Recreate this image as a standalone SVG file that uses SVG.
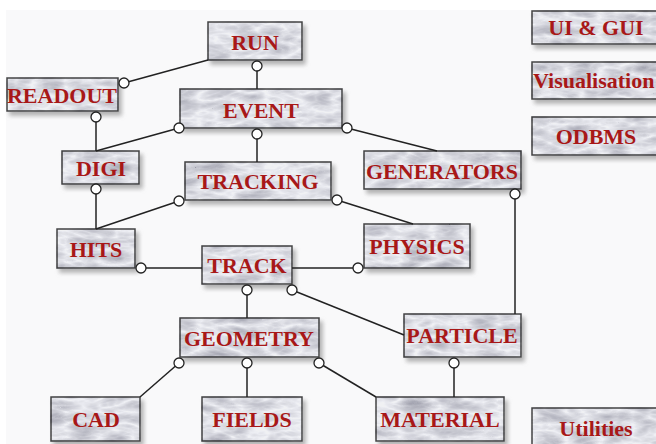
<svg xmlns="http://www.w3.org/2000/svg" width="656" height="444" viewBox="0 0 656 444">
<defs>
<filter id="mb" x="-8%" y="-15%" width="125%" height="145%" color-interpolation-filters="sRGB">
<feTurbulence type="turbulence" baseFrequency="0.03 0.08" numOctaves="3" seed="7" result="n"/>
<feColorMatrix in="n" type="matrix" values="-0.38 0 0 0 1.02  -0.38 0 0 0 1.02  -0.34 0 0 0 1.03  0 0 0 0 1" result="g"/>
<feComposite in="g" in2="SourceAlpha" operator="in" result="tex"/>
<feBlend in="tex" in2="SourceGraphic" mode="multiply" result="box"/>
<feGaussianBlur in="SourceAlpha" stdDeviation="2" result="b"/>
<feOffset in="b" dx="3" dy="4" result="bo"/>
<feFlood flood-color="#777" flood-opacity="0.55"/>
<feComposite in2="bo" operator="in" result="sh"/>
<feMerge><feMergeNode in="sh"/><feMergeNode in="box"/></feMerge>
</filter>
</defs>
<style>
.box{fill:#f0f1f3;stroke:#444;stroke-width:1.5;filter:url(#mb)}
.t{font-family:"Liberation Serif","Times New Roman",serif;font-weight:bold;font-size:22px;fill:#a81818;text-anchor:middle}
.c line{stroke:#222;stroke-width:1.5}
.c circle{fill:#fff;stroke:#222;stroke-width:1.3}
</style>
<rect width="656" height="444" fill="#ffffff"/>
<rect x="6" y="10" width="650" height="434" fill="#f9f9fa"/>

<g id="run"><rect class="box" x="208" y="22" width="94" height="38"/><text class="t" x="255" y="50">RUN</text></g>
<g id="readout"><rect class="box" x="7" y="78" width="111" height="33"/><text class="t" x="62" y="103">READOUT</text></g>
<g id="event"><rect class="box" x="180" y="89" width="162" height="39"/><text class="t" x="261" y="118">EVENT</text></g>
<g id="digi"><rect class="box" x="62" y="151" width="77" height="33"/><text class="t" x="101" y="176">DIGI</text></g>
<g id="tracking"><rect class="box" x="185" y="162" width="146" height="38"/><text class="t" x="258" y="189">TRACKING</text></g>
<g id="generators"><rect class="box" x="364" y="151" width="157" height="38"/><text class="t" x="442" y="179">GENERATORS</text></g>
<g id="hits"><rect class="box" x="57" y="229" width="78" height="39"/><text class="t" x="96" y="257">HITS</text></g>
<g id="track"><rect class="box" x="202" y="246" width="90" height="38"/><text class="t" x="247" y="273">TRACK</text></g>
<g id="physics"><rect class="box" x="364" y="224" width="106" height="44"/><text class="t" x="417" y="254">PHYSICS</text></g>
<g id="geometry"><rect class="box" x="180" y="318" width="139" height="39"/><text class="t" x="249" y="346">GEOMETRY</text></g>
<g id="particle"><rect class="box" x="404" y="314" width="117" height="43"/><text class="t" x="462" y="343">PARTICLE</text></g>
<g id="cad"><rect class="box" x="51" y="397" width="89" height="44"/><text class="t" x="96" y="427">CAD</text></g>
<g id="fields"><rect class="box" x="202" y="397" width="100" height="44"/><text class="t" x="252" y="427">FIELDS</text></g>
<g id="material"><rect class="box" x="376" y="397" width="128" height="44"/><text class="t" x="440" y="427">MATERIAL</text></g>
<g id="uigui"><rect class="box" x="532" y="11" width="130" height="33"/><text class="t" x="596" y="35">UI &amp; GUI</text></g>
<g id="visualisation"><rect class="box" x="532" y="62" width="130" height="37"/><text class="t" x="533" y="88" style="text-anchor:start">Visualisation</text></g>
<g id="odbms"><rect class="box" x="532" y="117" width="130" height="38"/><text class="t" x="596" y="144">ODBMS</text></g>
<g id="utilities"><rect class="box" x="532" y="408" width="130" height="50"/><text class="t" x="596" y="436">Utilities</text></g>

<g id="connectors" class="c">
<line x1="124" y1="83" x2="208" y2="60"/>
<line x1="257" y1="66" x2="257" y2="89"/>
<line x1="96" y1="117" x2="96" y2="151"/>
<line x1="179" y1="128" x2="96" y2="151"/>
<line x1="257" y1="134" x2="257" y2="162"/>
<line x1="347" y1="128" x2="437" y2="151"/>
<line x1="96" y1="189" x2="96" y2="229"/>
<line x1="179" y1="201" x2="96" y2="229"/>
<line x1="337" y1="200" x2="413" y2="224"/>
<line x1="141" y1="268" x2="202" y2="268"/>
<line x1="292" y1="268" x2="358" y2="268"/>
<line x1="247" y1="290" x2="247" y2="318"/>
<line x1="292" y1="290" x2="404" y2="335"/>
<line x1="515" y1="194" x2="515" y2="314"/>
<line x1="179" y1="363" x2="140" y2="397"/>
<line x1="247" y1="363" x2="247" y2="397"/>
<line x1="319" y1="363" x2="376" y2="397"/>
<line x1="454" y1="363" x2="454" y2="397"/>
<circle cx="124" cy="83" r="5"/>
<circle cx="257" cy="66" r="5"/>
<circle cx="96" cy="117" r="5"/>
<circle cx="179" cy="128" r="5"/>
<circle cx="257" cy="134" r="5"/>
<circle cx="347" cy="128" r="5"/>
<circle cx="96" cy="189" r="5"/>
<circle cx="179" cy="201" r="5"/>
<circle cx="337" cy="200" r="5"/>
<circle cx="141" cy="268" r="5"/>
<circle cx="358" cy="268" r="5"/>
<circle cx="247" cy="290" r="5"/>
<circle cx="292" cy="290" r="5"/>
<circle cx="515" cy="194" r="5"/>
<circle cx="179" cy="363" r="5"/>
<circle cx="247" cy="363" r="5"/>
<circle cx="319" cy="363" r="5"/>
<circle cx="454" cy="363" r="5"/>
</g>
</svg>
